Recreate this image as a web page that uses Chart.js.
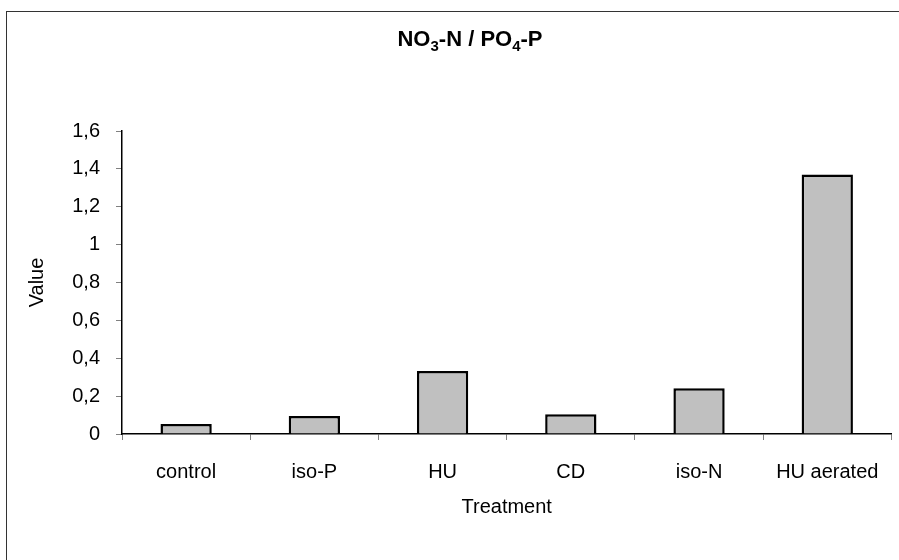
<!DOCTYPE html>
<html>
<head>
<meta charset="utf-8">
<script src="https://cdn.jsdelivr.net/npm/chart.js@4"></script>
<style>
  html, body { margin: 0; padding: 0; background: #fff; overflow: hidden; }
  #wrap { position: relative; width: 899px; height: 560px; }
  #frame { position: absolute; left: 6px; top: 11px; width: 1000px; height: 1000px; border: 1px solid #333; box-sizing: border-box; }
  #title { position: absolute; left: 0; width: 940px; top: 28px; text-align: center; font-family: "Liberation Sans", Arial, sans-serif; font-weight: bold; font-size: 22px; color: #000; line-height: 22px; }
  #title sub { font-size: 15px; vertical-align: -5px; line-height: 0; }
  canvas { position: absolute; left: 0; top: 0; }
</style>
</head>
<body>
<div id="wrap">
  <div id="frame"></div>
  <canvas id="c" width="899" height="560"></canvas>
  <div id="title">NO<sub>3</sub>-N / PO<sub>4</sub>-P</div>
</div>
<script>
const categories = ["control", "iso-P", "HU", "CD", "iso-N", "HU aerated"];
const values = [0.053, 0.095, 0.333, 0.104, 0.241, 1.37];
const yTicks = [0, 0.2, 0.4, 0.6, 0.8, 1, 1.2, 1.4, 1.6];
const xTitle = "Treatment";
const yTitle = "Value";

const FONT = "'Liberation Sans', Arial, sans-serif";

new Chart(document.getElementById('c'), {
  type: 'bar',
  data: {
    labels: categories,
    datasets: [{
      data: values,
      backgroundColor: '#c0c0c0',
      borderColor: '#000',
      borderWidth: 2.5,
      categoryPercentage: 1.0,
      barPercentage: 0.4
    }]
  },
  options: {
    responsive: false,
    animation: false,
    devicePixelRatio: 1,
    layout: { padding: { top: 131, right: 7, bottom: 0, left: 0 } },
    plugins: { legend: { display: false }, tooltip: { enabled: false }, title: { display: false } },
    scales: {
      x: {
        grid: { display: true, drawOnChartArea: false, offset: true, tickLength: 6, tickColor: '#808080', tickWidth: 1 },
        border: { display: true, color: '#000', width: 1.5 },
        ticks: { color: '#000', font: { family: FONT, size: 20 }, padding: 20, maxRotation: 0, autoSkip: false },
        title: { display: true, text: xTitle, color: '#000', font: { family: FONT, size: 20 }, padding: { top: 0, bottom: 41 } },
        afterFit: (s) => { s.height = 126; }
      },
      y: {
        min: 0, max: 1.6,
        afterBuildTicks: (s) => { s.ticks = yTicks.map(v => ({ value: v })); },
        grid: { display: true, drawOnChartArea: false, tickLength: 6, tickColor: '#808080', tickWidth: 1 },
        border: { display: true, color: '#000', width: 1.5 },
        ticks: { color: '#000', font: { family: FONT, size: 20 }, padding: 16,
          callback: (v) => String(Math.round(v * 10) / 10).replace('.', ',') },
        title: { display: true, text: yTitle, color: '#000', font: { family: FONT, size: 20 }, padding: { top: 25, bottom: 0 } },
        afterFit: (s) => { s.width = 122; }
      }
    }
  }
});
</script>
</body>
</html>
